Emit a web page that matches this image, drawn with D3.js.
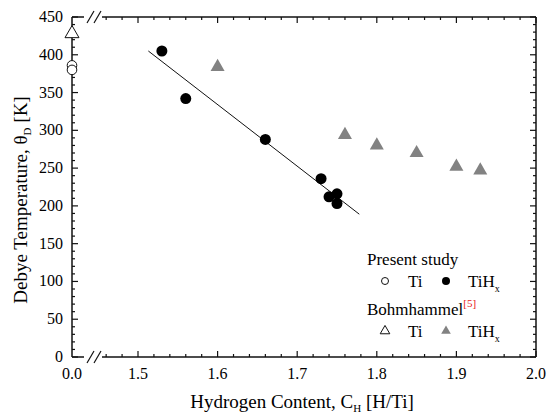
<!DOCTYPE html>
<html>
<head>
<meta charset="utf-8">
<script src="https://cdn.jsdelivr.net/npm/d3@7"></script>
<style>
  body { margin: 0; background: #fff; }
</style>
</head>
<body>
<div id="chart"></div>
<script>
// present study, TiHx (filled circles)
const presentCH = [1.53, 1.56, 1.66, 1.73, 1.74, 1.75, 1.75];
const presentTheta = [405, 342, 288, 236, 212, 216, 203];
// present study, pure Ti at C_H = 0 (open circles)
const presentTiTheta = [386, 380];
// Bohmhammel [5], TiHx (grey triangles)
const bohmCH = [1.60, 1.76, 1.80, 1.85, 1.90, 1.93];
const bohmTheta = [384, 294, 280, 270, 252, 247];
// Bohmhammel [5], pure Ti (open triangle)
const bohmTiTheta = [428];
// linear fit through present TiHx
const fitCH = [1.513, 1.778];
const fitTheta = [405, 189];

const xTicks = [1.5, 1.6, 1.7, 1.8, 1.9, 2.0];
const yTicks = [0, 50, 100, 150, 200, 250, 300, 350, 400, 450];

const W = 547, H = 419;
const plotL = 72, plotR = 536, plotT = 17, plotB = 357;
const breakStart = 84, breakEnd = 102;
const FONT = "'Liberation Serif', 'Times New Roman', Times, serif";

const svg = d3.select("#chart").append("svg")
    .attr("width", W)
    .attr("height", H)
    .attr("font-family", FONT)
    .style("font-family", FONT);

const x = d3.scaleLinear().domain([1.5, 2.0]).range([138, plotR]);
const y = d3.scaleLinear().domain([0, 450]).range([plotB, plotT]);
const x0 = plotL; // position of C_H = 0 on the broken axis

const minorX = d3.range(1.46, 2.001, 0.02).filter(v => Math.abs(v * 10 - Math.round(v * 10)) > 1e-6);
const minorY = d3.range(0, 451, 10).filter(v => v % 50 !== 0);

// ---- axes frame ----
const frame = svg.append("g").attr("stroke", "#111").attr("stroke-width", 1.5).attr("fill", "none");
frame.append("line").attr("x1", plotL).attr("x2", plotL).attr("y1", plotT).attr("y2", plotB);
frame.append("line").attr("x1", plotR).attr("x2", plotR).attr("y1", plotT).attr("y2", plotB);
// top & bottom, with the break
[plotT, plotB].forEach(yy => {
    frame.append("line").attr("x1", plotL).attr("x2", breakStart).attr("y1", yy).attr("y2", yy);
    frame.append("line").attr("x1", breakEnd).attr("x2", plotR).attr("y1", yy).attr("y2", yy);
    [87, 94].forEach(bx => {
        frame.append("line").attr("stroke-width", 1.2)
            .attr("x1", bx).attr("y1", yy + 6).attr("x2", bx + 7).attr("y2", yy - 6);
    });
});

// ticks
const tickG = svg.append("g").attr("stroke", "#111").attr("stroke-width", 1.2);
xTicks.forEach(v => {
    tickG.append("line").attr("x1", x(v)).attr("x2", x(v)).attr("y1", plotB).attr("y2", plotB - 6);
    tickG.append("line").attr("x1", x(v)).attr("x2", x(v)).attr("y1", plotT).attr("y2", plotT + 6);
});
minorX.forEach(v => {
    tickG.append("line").attr("x1", x(v)).attr("x2", x(v)).attr("y1", plotB).attr("y2", plotB - 3);
    tickG.append("line").attr("x1", x(v)).attr("x2", x(v)).attr("y1", plotT).attr("y2", plotT + 3);
});
yTicks.forEach(v => {
    tickG.append("line").attr("x1", plotL).attr("x2", plotL + 6).attr("y1", y(v)).attr("y2", y(v));
    tickG.append("line").attr("x1", plotR).attr("x2", plotR - 6).attr("y1", y(v)).attr("y2", y(v));
});
minorY.forEach(v => {
    tickG.append("line").attr("x1", plotL).attr("x2", plotL + 3).attr("y1", y(v)).attr("y2", y(v));
    tickG.append("line").attr("x1", plotR).attr("x2", plotR - 3).attr("y1", y(v)).attr("y2", y(v));
});

// tick labels
svg.append("g").selectAll("text").data(yTicks).join("text")
    .attr("x", plotL - 9).attr("y", d => y(d) + 5)
    .attr("text-anchor", "end").attr("font-size", 16)
    .text(d => d);
svg.append("g").selectAll("text").data(xTicks).join("text")
    .attr("x", d => x(d)).attr("y", plotB + 22)
    .attr("text-anchor", "middle").attr("font-size", 16)
    .text(d => d.toFixed(1));
svg.append("text").attr("x", x0).attr("y", plotB + 22)
    .attr("text-anchor", "middle").attr("font-size", 16).text("0.0");

// axis titles
const xt = svg.append("text").attr("x", 302).attr("y", 408)
    .attr("text-anchor", "middle").attr("font-size", 19);
xt.append("tspan").text("Hydrogen Content, C");
xt.append("tspan").attr("font-size", 11).attr("dy", 4).text("H");
xt.append("tspan").attr("dy", -4).text(" [H/Ti]");

const yt = svg.append("text").attr("transform", "translate(27,200) rotate(-90)")
    .attr("text-anchor", "middle").attr("font-size", 19);
yt.append("tspan").text("Debye Temperature, θ");
yt.append("tspan").attr("font-size", 11).attr("dy", 4).text("D");
yt.append("tspan").attr("dy", -4).text(" [K]");

// ---- data ----
const line = d3.line().x(d => x(d[0])).y(d => y(d[1]));
svg.append("path")
    .datum(d3.zip(fitCH, fitTheta))
    .attr("d", line)
    .attr("fill", "none").attr("stroke", "#111").attr("stroke-width", 1);

const tri = d3.symbol().type(d3.symbolTriangle).size(85);

svg.append("g").selectAll("path").data(d3.zip(bohmCH, bohmTheta)).join("path")
    .attr("d", tri)
    .attr("transform", d => `translate(${x(d[0])},${y(d[1])})`)
    .attr("fill", "#828282");

svg.append("g").selectAll("circle").data(d3.zip(presentCH, presentTheta)).join("circle")
    .attr("cx", d => x(d[0])).attr("cy", d => y(d[1])).attr("r", 5.5)
    .attr("fill", "#000");

svg.append("g").selectAll("circle").data(presentTiTheta).join("circle")
    .attr("cx", x0).attr("cy", d => y(d)).attr("r", 4.8)
    .attr("fill", "#fff").attr("stroke", "#111").attr("stroke-width", 1);

svg.append("g").selectAll("path").data(bohmTiTheta).join("path")
    .attr("d", tri)
    .attr("transform", d => `translate(${x0},${y(d)})`)
    .attr("fill", "#fff").attr("stroke", "#111").attr("stroke-width", 1);

// ---- legend ----
const lg = svg.append("g").attr("font-size", 17);
lg.append("text").attr("x", 367).attr("y", 265).text("Present study");
lg.append("circle").attr("cx", 385).attr("cy", 281).attr("r", 3.5)
    .attr("fill", "#fff").attr("stroke", "#111");
lg.append("text").attr("x", 408).attr("y", 287).text("Ti");
lg.append("circle").attr("cx", 446).attr("cy", 281).attr("r", 4)
    .attr("fill", "#000");
const l1 = lg.append("text").attr("x", 468).attr("y", 287);
l1.append("tspan").text("TiH");
l1.append("tspan").attr("font-size", 10).attr("dy", 5).text("x");

const bh = lg.append("text").attr("x", 367).attr("y", 315);
bh.append("tspan").text("Bohmhammel");
bh.append("tspan").attr("font-size", 11).attr("dy", -8).attr("fill", "#e8201c").text("[5]");

const symSmall = d3.symbol().type(d3.symbolTriangle).size(40);
lg.append("path").attr("d", symSmall).attr("transform", "translate(385,331)")
    .attr("fill", "#fff").attr("stroke", "#111");
lg.append("text").attr("x", 408).attr("y", 337).text("Ti");
lg.append("path").attr("d", symSmall).attr("transform", "translate(446,331)")
    .attr("fill", "#828282");
const l2 = lg.append("text").attr("x", 468).attr("y", 337);
l2.append("tspan").text("TiH");
l2.append("tspan").attr("font-size", 10).attr("dy", 5).text("x");
</script>
</body>
</html>
